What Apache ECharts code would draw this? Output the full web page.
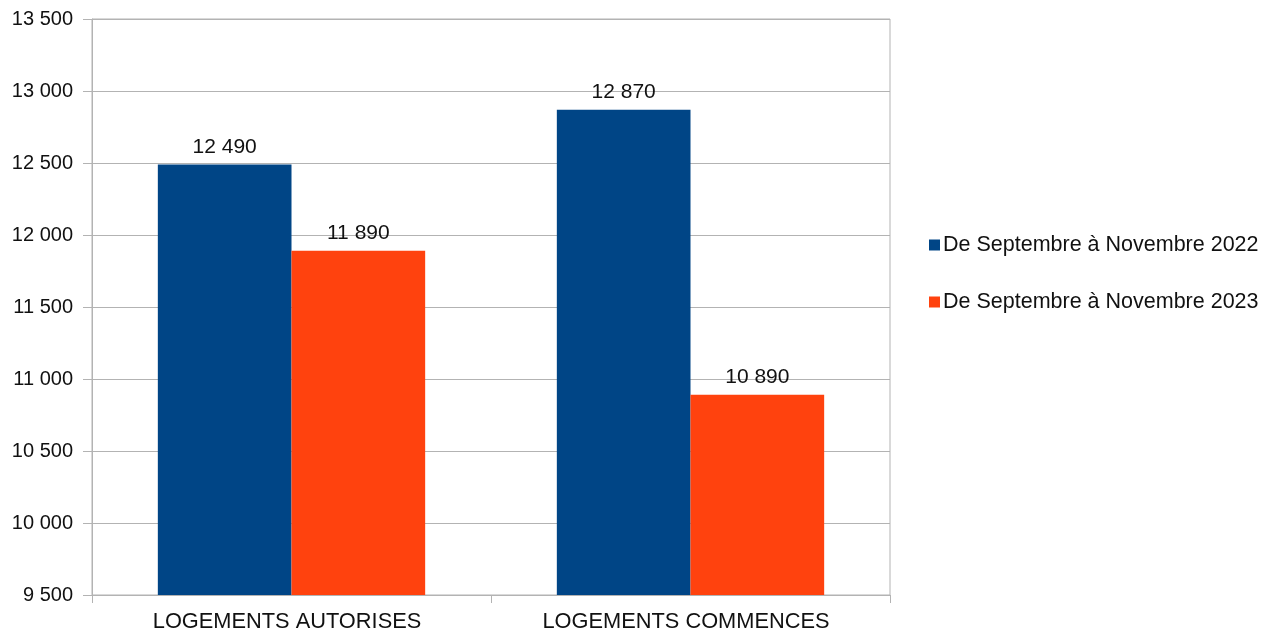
<!DOCTYPE html>
<html>
<head>
<meta charset="utf-8">
<script src="https://cdn.jsdelivr.net/npm/echarts@6/dist/echarts.min.js"></script>
<style>
  html, body { margin: 0; padding: 0; background: #fff; }
  #chart { width: 1271px; height: 637px; }
</style>
</head>
<body>
<div id="chart"></div>
<script>
const categories = ['LOGEMENTS AUTORISES', 'LOGEMENTS COMMENCES']
const seriesNames = ['De Septembre à Novembre 2022', 'De Septembre à Novembre 2023']
const values2022 = [12490, 12870]
const values2023 = [11890, 10890]
const colors = ['#004586', '#ff420e']

const font = 'Liberation Sans'
const fmt = v => String(v).replace(/\B(?=(\d{3})+(?!\d))/g, ' ')

const ec = echarts.init(document.getElementById('chart'))

function barSeries(name, data, color) {
  return {
    name: name,
    type: 'bar',
    data: data,
    barGap: '0%',
    barCategoryGap: '33%',
    itemStyle: {color: color},
    label: {
      show: true,
      position: 'top',
      distance: 7,
      color: '#111',
      fontFamily: font,
      fontSize: 21,
      formatter: p => fmt(p.value)
    }
  }
}

ec.setOption({
  animation: false,
  grid: {
    left: 92,
    right: 381,
    top: 19,
    bottom: 42,
    show: true,
    borderColor: '#b3b3b3',
    borderWidth: 1
  },
  legend: {
    orient: 'vertical',
    left: 924,
    top: 229,
    itemWidth: 11,
    itemHeight: 11,
    itemGap: 35,
    icon: 'rect',
    textStyle: {fontFamily: font, fontSize: 21.5, color: '#111', padding: [0, 0, 0, -2]},
    data: seriesNames
  },
  xAxis: {
    type: 'category',
    data: categories,
    axisLine: {lineStyle: {color: '#b3b3b3'}},
    axisTick: {show: true, length: 8, lineStyle: {color: '#b3b3b3'}},
    axisLabel: {fontFamily: font, fontSize: 21.8, color: '#111', margin: 16, padding: [0, 9, 0, 0]}
  },
  yAxis: {
    type: 'value',
    min: 9500,
    max: 13500,
    interval: 500,
    axisLine: {show: true, lineStyle: {color: '#b3b3b3'}},
    axisTick: {show: true, length: 9, lineStyle: {color: '#b3b3b3'}},
    splitLine: {lineStyle: {color: '#b3b3b3'}},
    axisLabel: {fontFamily: font, fontSize: 20, color: '#111', margin: 19, formatter: v => fmt(v)}
  },
  series: [
    barSeries(seriesNames[0], values2022, colors[0]),
    barSeries(seriesNames[1], values2023, colors[1])
  ]
})
</script>
</body>
</html>
